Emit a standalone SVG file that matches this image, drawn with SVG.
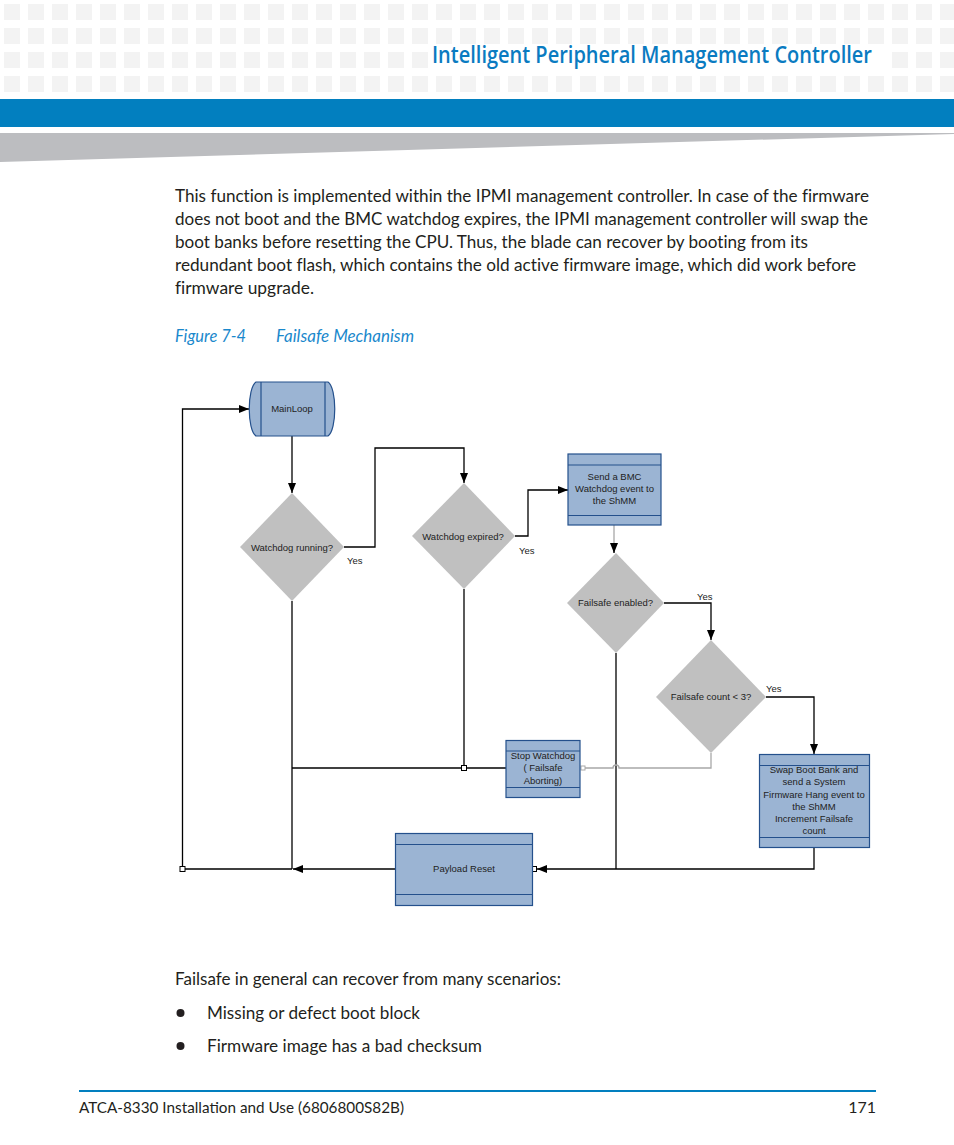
<svg xmlns="http://www.w3.org/2000/svg" width="954" height="1145" viewBox="0 0 954 1145">
<style>
.body{font-family:Lato,"Noto Sans","Liberation Sans",sans-serif;font-size:17px;fill:#231f20;font-variant-ligatures:none}
.cap{font-family:Lato,"Noto Sans","Liberation Sans",sans-serif;font-size:17px;font-style:italic;fill:#1a88cc;font-variant-ligatures:none}
.dt{font-family:"Liberation Sans",Arial,sans-serif;font-size:9.5px;fill:#222;text-anchor:middle}
.lbl{font-family:"Liberation Sans",Arial,sans-serif;font-size:9.5px;fill:#222}
.box{fill:#9bb4d3;stroke:#24508c;stroke-width:1.2}
.sep{stroke:#24508c;stroke-width:1.2}
.dia{fill:#c0c0c0}
.ln{fill:none;stroke:#000;stroke-width:1.3}
.gl{fill:none;stroke:#a8a8a8;stroke-width:1.3}
.jn{fill:#fff;stroke:#000;stroke-width:1}
</style>
<defs>
<pattern id="sq" x="0" y="0" width="24" height="24" patternUnits="userSpaceOnUse">
<rect x="4" y="4" width="16" height="16" fill="#f3f3f3"/>
</pattern>
<marker id="ah" markerWidth="10" markerHeight="8" refX="10" refY="4" orient="auto" markerUnits="userSpaceOnUse">
<path d="M0,0 L10,4 L0,8 Z" fill="#000"/>
</marker>
</defs>

<g id="header">
<rect x="0" y="0" width="954" height="94" fill="url(#sq)"/>
<rect x="430" y="50" width="459" height="20" fill="#fff"/>
<text x="432" y="63" font-family="'Open Sans','Noto Sans',sans-serif" font-weight="600" font-size="23" fill="#0a7bc1" textLength="440" lengthAdjust="spacingAndGlyphs">Intelligent Peripheral Management Controller</text>
<rect x="0" y="99" width="954" height="28" fill="#027fbf"/>
<polygon points="0,133 954,133 954,134 0,162" fill="#bcbdc0"/>
</g>

<g id="intro">
<text class="body" x="175" y="202" textLength="694" lengthAdjust="spacingAndGlyphs">This function is implemented within the IPMI management controller. In case of the firmware</text>
<text class="body" x="175" y="225" textLength="693" lengthAdjust="spacingAndGlyphs">does not boot and the BMC watchdog expires, the IPMI management controller will swap the</text>
<text class="body" x="175" y="248" textLength="633" lengthAdjust="spacingAndGlyphs">boot banks before resetting the CPU. Thus, the blade can recover by booting from its</text>
<text class="body" x="175" y="271" textLength="681" lengthAdjust="spacingAndGlyphs">redundant boot flash, which contains the old active firmware image, which did work before</text>
<text class="body" x="175" y="294" textLength="139" lengthAdjust="spacingAndGlyphs">firmware upgrade.</text>
<text class="cap" x="175" y="342" textLength="71" lengthAdjust="spacingAndGlyphs">Figure 7-4</text>
<text class="cap" x="276" y="342" textLength="138" lengthAdjust="spacingAndGlyphs">Failsafe Mechanism</text>
</g>

<g id="connectors">
<path class="ln" d="M292,436 V493" marker-end="url(#ah)"/>
<path class="ln" d="M344,547 H375 V448 H464 V483" marker-end="url(#ah)"/>
<path class="ln" d="M515,536 H528 V490 H568" marker-end="url(#ah)"/>
<path class="gl" d="M614,525 V545"/>
<path class="ln" d="M614,543 V553" marker-end="url(#ah)"/>
<path class="ln" d="M664,603 H711 V640" marker-end="url(#ah)"/>
<path class="ln" d="M766,697 H814 V754" marker-end="url(#ah)"/>
<path class="ln" d="M814,847 V869 H537" marker-end="url(#ah)"/>
<path class="ln" d="M616,653 V869"/>
<path class="gl" d="M711,753 V768 H619 A3,3 0 0 0 613,768 H584"/>
<rect x="581" y="766" width="4" height="4" fill="#fff" stroke="#a8a8a8" stroke-width="1"/>
<path class="ln" d="M506,768 H292"/>
<path class="ln" d="M464,589 V768"/>
<path class="ln" d="M292,601 V869"/>
<path class="ln" d="M395,869 H293" marker-end="url(#ah)"/>
<path class="ln" d="M292,869 H182.5 V409 H249" marker-end="url(#ah)"/>
<rect class="jn" x="180" y="866.5" width="5" height="5"/>
<rect class="jn" x="461.5" y="765.5" width="5" height="5"/>
<rect class="jn" x="532.5" y="866.5" width="4" height="5"/>
</g>

<g id="mainloop">
<path class="box" d="M256,382 H328 C337,388 337,430 328,436 H256 C247,430 247,388 256,382 Z"/>
<line class="sep" x1="261" y1="382" x2="261" y2="436"/>
<line class="sep" x1="325" y1="382" x2="325" y2="436"/>
<text class="dt" x="292" y="412">MainLoop</text>
</g>

<g id="watchdog-running">
<polygon class="dia" points="292,493 344,547 292,601 240,547"/>
<text class="dt" x="292" y="550.5">Watchdog running?</text>
<text class="lbl" x="347" y="564">Yes</text>
</g>

<g id="watchdog-expired">
<polygon class="dia" points="464,483 515,536 464,589 412,536"/>
<text class="dt" x="463" y="539.5">Watchdog expired?</text>
<text class="lbl" x="519" y="554">Yes</text>
</g>

<g id="send-bmc">
<rect class="box" x="568" y="454" width="93" height="71"/>
<line class="sep" x1="568" y1="465" x2="661" y2="465"/>
<line class="sep" x1="568" y1="515.5" x2="661" y2="515.5"/>
<text class="dt" x="614.5" y="480">Send a BMC</text>
<text class="dt" x="614.5" y="492">Watchdog event to</text>
<text class="dt" x="614.5" y="504">the ShMM</text>
</g>

<g id="failsafe-enabled">
<polygon class="dia" points="616,553 664,603 616,653 567,603"/>
<text class="dt" x="615.5" y="606">Failsafe enabled?</text>
<text class="lbl" x="697" y="600">Yes</text>
</g>

<g id="failsafe-count">
<polygon class="dia" points="711,640 766,697 711,753 656,697"/>
<text class="dt" x="711" y="700">Failsafe count &lt; 3?</text>
<text class="lbl" x="766" y="692">Yes</text>
</g>

<g id="swap-boot">
<rect class="box" x="759.5" y="754.5" width="110" height="93"/>
<line class="sep" x1="759.5" y1="765.5" x2="869.5" y2="765.5"/>
<line class="sep" x1="759.5" y1="837.5" x2="869.5" y2="837.5"/>
<text class="dt" x="814" y="773">Swap Boot Bank and</text>
<text class="dt" x="814" y="785">send a System</text>
<text class="dt" x="814" y="797.5">Firmware Hang event to</text>
<text class="dt" x="814" y="809.5">the ShMM</text>
<text class="dt" x="814" y="822">Increment Failsafe</text>
<text class="dt" x="814" y="834">count</text>
</g>

<g id="stop-watchdog">
<rect class="box" x="506" y="740.5" width="74" height="57"/>
<line class="sep" x1="506" y1="751" x2="580" y2="751"/>
<line class="sep" x1="506" y1="787.5" x2="580" y2="787.5"/>
<text class="dt" x="543" y="759">Stop Watchdog</text>
<text class="dt" x="543" y="771">( Failsafe</text>
<text class="dt" x="543" y="784">Aborting)</text>
</g>

<g id="payload-reset">
<rect class="box" x="395.5" y="833.5" width="137" height="72"/>
<line class="sep" x1="395.5" y1="844.5" x2="532.5" y2="844.5"/>
<line class="sep" x1="395.5" y1="894.5" x2="532.5" y2="894.5"/>
<text class="dt" x="464" y="871.5">Payload Reset</text>
</g>

<g id="after">
<text class="body" x="175" y="985" textLength="386" lengthAdjust="spacingAndGlyphs">Failsafe in general can recover from many scenarios:</text>
<circle cx="180.5" cy="1013" r="4" fill="#231f20"/>
<text class="body" x="207" y="1019" textLength="213" lengthAdjust="spacingAndGlyphs">Missing or defect boot block</text>
<circle cx="180.5" cy="1046" r="4" fill="#231f20"/>
<text class="body" x="207" y="1052" textLength="275" lengthAdjust="spacingAndGlyphs">Firmware image has a bad checksum</text>
</g>

<g id="footer">
<rect x="79" y="1090" width="797" height="2" fill="#027fbf"/>
<text x="79" y="1113" font-family="Lato,'Noto Sans',sans-serif" font-size="16" fill="#231f20" textLength="325" lengthAdjust="spacingAndGlyphs">ATCA-8330 Installation and Use (6806800S82B)</text>
<text x="876" y="1113" font-family="Lato,'Noto Sans',sans-serif" font-size="16" fill="#231f20" text-anchor="end">171</text>
</g>
</svg>
